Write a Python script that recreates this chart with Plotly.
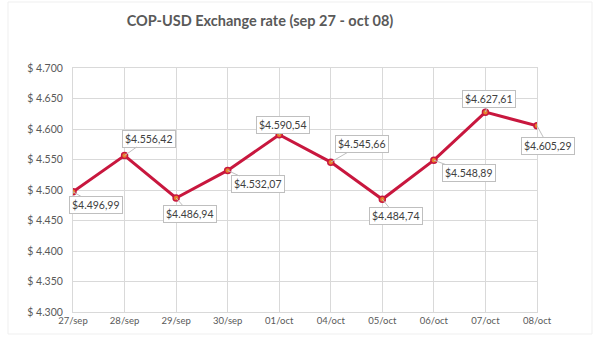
import plotly.graph_objects as go

# Daily COP per USD closing rates
dates = ["27/sep", "28/sep", "29/sep", "30/sep", "01/oct",
         "04/oct", "05/oct", "06/oct", "07/oct", "08/oct"]
rates = [4496.99, 4556.42, 4486.94, 4532.07, 4590.54,
         4545.66, 4484.74, 4548.89, 4627.61, 4605.29]

y_ticks = [4300, 4350, 4400, 4450, 4500, 4550, 4600, 4650, 4700]
y_tick_labels = ["$ 4.300", "$ 4.350", "$ 4.400", "$ 4.450", "$ 4.500",
                 "$ 4.550", "$ 4.600", "$ 4.650", "$ 4.700"]

# Callout offsets (pixels) of each data label relative to its point
label_dx = [23, 24, 14, 30, 4, 31, 14, 35, 4, 11]
label_dy = [13, -17, 16, 14, -10, -18, 17, 13, -13, 20]


def money(v):
    s = f"{v:,.2f}"
    s = s.replace(",", "X").replace(".", ",").replace("X", ".")
    return "$" + s


LINE = "#C8173E"
GRID = "#D9D9D9"
TEXT = "#595959"
FONT = "Lato, 'Open Sans', sans-serif"

fig = go.Figure()
fig.add_trace(go.Scatter(
    x=dates, y=rates, mode="lines+markers",
    line=dict(color=LINE, width=3),
    marker=dict(size=6, color="#E8802A", line=dict(color=LINE, width=1.5)),
    hoverinfo="skip", showlegend=False,
))

for d, v, dx, dy in zip(dates, rates, label_dx, label_dy):
    fig.add_annotation(
        x=d, y=v, text=money(v), showarrow=True, arrowhead=0,
        arrowwidth=1, arrowcolor="#BFBFBF", ax=dx, ay=dy, standoff=0,
        bgcolor="white", bordercolor="#BFBFBF", borderwidth=1, borderpad=2,
        font=dict(family=FONT, size=10.5, color="#404040"),
    )

# faint frame around the whole chart area
fig.add_shape(type="rect", xref="paper", yref="paper",
              x0=-65 / 464, x1=1 + 55 / 464, y0=-22 / 244, y1=1 + 66 / 244,
              line=dict(color="#EFEFEF", width=1), layer="below")

fig.update_layout(
    width=601, height=338,
    margin=dict(l=73, r=64, t=68, b=26),
    paper_bgcolor="white", plot_bgcolor="white",
    title=dict(text="COP-USD Exchange rate (sep 27 - oct 08)",
               x=260 / 601, xanchor="center", y=0.937, yanchor="middle",
               font=dict(family=FONT, size=14.5, color=TEXT, weight="bold")),
    font=dict(family=FONT, color=TEXT),
)
fig.update_xaxes(
    type="category", range=[0, len(dates) - 1],
    showgrid=True, gridcolor=GRID, gridwidth=1,
    showline=True, linecolor=GRID, mirror=True, zeroline=False,
    tickfont=dict(family=FONT, size=9.5, color=TEXT), ticks="",
)
fig.update_yaxes(
    range=[4300, 4700], tickvals=y_ticks, ticktext=y_tick_labels,
    showgrid=True, gridcolor=GRID, gridwidth=1,
    showline=True, linecolor=GRID, mirror=True, zeroline=False,
    tickfont=dict(family=FONT, size=10.5, color=TEXT), ticks="",
    ticklabelstandoff=7,
)

fig.write_html("out.html")
